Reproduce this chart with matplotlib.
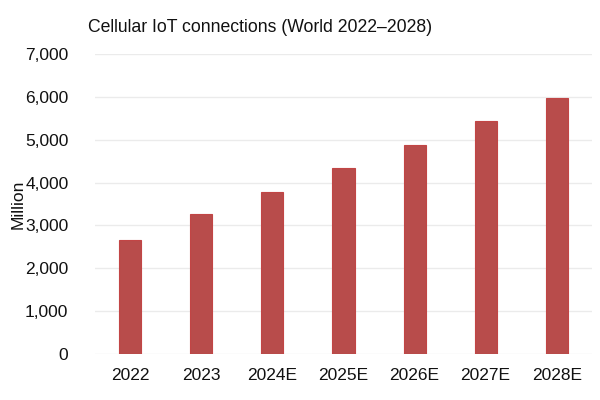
import matplotlib
matplotlib.use("Agg")
import matplotlib.pyplot as plt
from matplotlib.ticker import FuncFormatter

categories = ["2022", "2023", "2024E", "2025E", "2026E", "2027E", "2028E"]
values = [2650, 3270, 3780, 4340, 4880, 5430, 5970]

plt.rcParams['font.family'] = ['Liberation Sans', 'DejaVu Sans']

fig = plt.figure(figsize=(6, 4), dpi=100)
ax = fig.add_axes([0.158, 0.115, 0.829, 0.75])
x = range(len(categories))
ax.bar(x, values, width=0.31, color='#b84c4b', edgecolor='#c24545', linewidth=0.8, zorder=3)
ax.set_xlim(-0.5, len(categories) - 0.5)
ax.set_ylim(0, 7000)
ax.set_yticks(range(0, 7001, 1000))
ax.yaxis.set_major_formatter(FuncFormatter(lambda v, p: f"{int(v):,}"))
ax.set_xticks(list(x))
ax.set_xticklabels(categories)
ax.tick_params(axis='both', length=0, labelsize=12.5, colors='#111111')
ax.tick_params(axis='y', pad=19)
ax.tick_params(axis='x', pad=10)
ax.grid(axis='y', color='#ebebeb', linewidth=1, zorder=0)
for s in ax.spines.values():
    s.set_visible(False)
ax.set_ylabel("Million", fontsize=12.5, color='#111111')
ax.yaxis.set_label_coords(-0.14, 0.5)
fig.text(0.147, 0.93, "Cellular IoT connections (World 2022\u20132028)", fontsize=12.7, ha='left', va='center', color='#111111')
fig.savefig("out.png", dpi=100)
